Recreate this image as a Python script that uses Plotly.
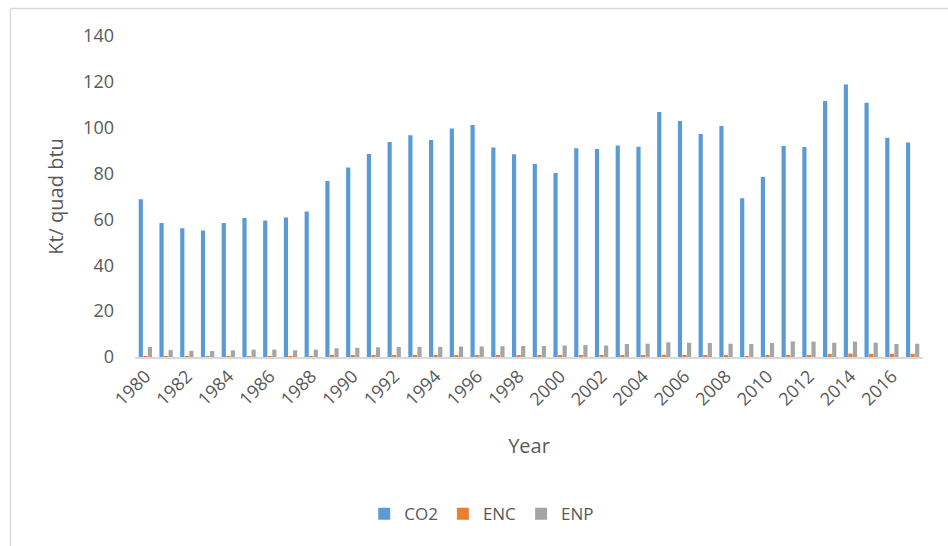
import plotly.graph_objects as go

# Annual series, 1980-2017
years = [str(y) for y in range(1980, 2018)]

co2 = [68.8, 58.4, 56.1, 55.2, 58.4, 60.6, 59.5, 60.8, 63.5, 76.8,
       82.6, 88.5, 93.8, 96.7, 94.6, 99.7, 101.2, 91.4, 88.4, 84.2,
       80.2, 91.0, 90.7, 92.2, 91.7, 106.8, 102.9, 97.3, 100.7, 69.2,
       78.5, 92.0, 91.6, 111.6, 118.9, 110.9, 95.6, 93.6]

enc = [0.3, 0.3, 0.3, 0.3, 0.3, 0.3, 0.3, 0.3, 0.4, 0.5,
       0.5, 0.6, 0.6, 0.6, 0.6, 0.6, 0.6, 0.6, 0.6, 0.6,
       0.6, 0.6, 0.6, 0.7, 0.8, 1.0, 0.8, 0.6, 0.8, 0.4,
       0.6, 0.8, 0.9, 1.3, 1.5, 1.4, 1.4, 1.4]

enp = [4.4, 3.0, 2.7, 2.6, 2.9, 3.2, 3.2, 2.9, 3.2, 3.8,
       4.0, 4.2, 4.4, 4.4, 4.4, 4.6, 4.6, 4.7, 4.8, 4.8,
       5.0, 5.2, 5.0, 5.7, 5.8, 6.4, 6.2, 6.1, 5.8, 5.7,
       6.1, 6.8, 6.7, 6.2, 6.7, 6.2, 5.7, 5.8]

tick_years = years[::2]

FONT = "Open Sans"
TXT = "#595959"

fig = go.Figure()
fig.add_trace(go.Bar(x=years, y=co2, name="CO2", marker_color="#5B9BD5", marker_line_width=0))
fig.add_trace(go.Bar(x=years, y=enc, name="ENC", marker_color="#ED7D31", marker_line_width=0))
fig.add_trace(go.Bar(x=years, y=enp, name="ENP", marker_color="#A5A5A5", marker_line_width=0))

fig.update_layout(
    width=948, height=546,
    margin=dict(l=135, r=25, t=36, b=189),
    paper_bgcolor="white", plot_bgcolor="white",
    barmode="group", bargap=0.34, bargroupgap=0.08,
    font=dict(family=FONT, color=TXT, size=17),
    showlegend=True,
    legend=dict(orientation="h", x=0.44, xanchor="center", y=-0.49, yanchor="middle",
                font=dict(size=17, color=TXT), itemwidth=30, traceorder="normal"),
    xaxis=dict(
        type="category", tickmode="array", tickvals=tick_years, ticktext=tick_years,
        tickangle=-45, tickfont=dict(size=18, color=TXT),
        showgrid=False, showline=True, linecolor="#D9D9D9", linewidth=1.5,
        ticks="", zeroline=False,
        title=dict(text="Year", font=dict(size=20, color=TXT), standoff=30),
    ),
    yaxis=dict(
        range=[0, 140], tickvals=list(range(0, 141, 20)),
        tickfont=dict(size=18, color=TXT), ticklabelstandoff=20,
        showgrid=False, showline=False, zeroline=False, ticks="",
        title=dict(text="Kt/ quad btu", font=dict(size=20, color=TXT), standoff=14),
    ),
)

# Light frame around the chart area (left and top edges visible)
fig.add_shape(type="line", xref="paper", yref="paper",
              x0=-0.158, x1=-0.158, y0=-0.62, y1=1.0857,
              line=dict(color="#D9D9D9", width=1.5))
fig.add_shape(type="line", xref="paper", yref="paper",
              x0=-0.158, x1=1.05, y0=1.0857, y1=1.0857,
              line=dict(color="#D9D9D9", width=1.5))

fig.write_html("out.html")
